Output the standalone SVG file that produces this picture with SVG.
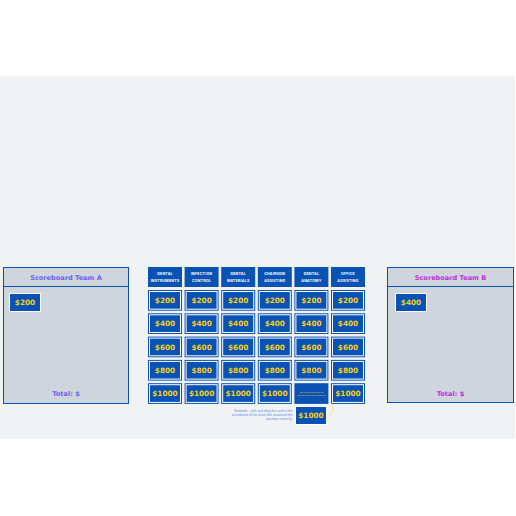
<svg xmlns="http://www.w3.org/2000/svg" width="516" height="516" viewBox="0 0 516 516">
<style>
.bg{fill:#f1f2f4}
.board{fill:#cfd5dd;stroke:#0a52b3;stroke-width:1}
.hdr{fill:#0a52b3}
.hdrt{fill:#ffffff;font-family:Inter,"Liberation Sans",sans-serif;font-weight:700;font-size:3.6px;letter-spacing:0.2px;text-anchor:middle}
.cell{fill:#0a52b3}
.inner{fill:none;stroke:#ffffff;stroke-width:1}
.val{fill:#f5cf1a;font-family:"DejaVu Sans",sans-serif;font-weight:700;font-size:7.3px;text-anchor:middle}
.card{fill:#0a52b3;stroke:#ffffff;stroke-width:1}
.titleA{fill:#6d63ee;font-family:"DejaVu Sans",sans-serif;font-weight:700;font-size:6.6px;text-anchor:middle}
.titleB{fill:#c02fe0;font-family:"DejaVu Sans",sans-serif;font-weight:700;font-size:6.6px;text-anchor:middle}
.tiny{fill:#e2c43a;font-family:"Liberation Sans",sans-serif;font-size:2.3px;text-anchor:middle}
.note{fill:#5b8fe6;font-family:"Liberation Sans",sans-serif;font-size:3.3px;text-anchor:end}
</style>
<rect class="bg" x="0" y="76" width="515" height="363"/>

<g id="scoreboardA">
<rect class="board" x="3.5" y="267.5" width="125" height="136"/>
<line x1="3.5" y1="286.5" x2="128.5" y2="286.5" stroke="#0a52b3" stroke-width="1"/>
<text class="titleA" x="66" y="279.5">Scoreboard Team A</text>
<rect class="card" x="9.5" y="293.5" width="31" height="18"/>
<text class="val" x="25" y="305.3">$200</text>
<text class="titleA" x="66" y="395.5">Total: $</text>
</g>

<g id="scoreboardB">
<rect class="board" x="387.5" y="267.5" width="126" height="135"/>
<line x1="387.5" y1="286.5" x2="513.5" y2="286.5" stroke="#0a52b3" stroke-width="1"/>
<text class="titleB" x="450.5" y="279.5">Scoreboard Team B</text>
<rect class="card" x="395.5" y="293.5" width="31" height="18"/>
<text class="val" x="411" y="305.3">$400</text>
<text class="titleB" x="450.5" y="395.5">Total: $</text>
</g>

<g id="headers">
<g id="h1"><rect class="hdr" x="148" y="267" width="34" height="20"/><text class="hdrt" x="165" y="275">DENTAL</text><text class="hdrt" x="165" y="282">INSTRUMENTS</text></g>
<g id="h2"><rect class="hdr" x="184.6" y="267" width="34" height="20"/><text class="hdrt" x="201.6" y="275">INFECTION</text><text class="hdrt" x="201.6" y="282">CONTROL</text></g>
<g id="h3"><rect class="hdr" x="221.2" y="267" width="34" height="20"/><text class="hdrt" x="238.2" y="275">DENTAL</text><text class="hdrt" x="238.2" y="282">MATERIALS</text></g>
<g id="h4"><rect class="hdr" x="257.8" y="267" width="34" height="20"/><text class="hdrt" x="274.8" y="275">CHAIRSIDE</text><text class="hdrt" x="274.8" y="282">ASSISTING</text></g>
<g id="h5"><rect class="hdr" x="294.4" y="267" width="34" height="20"/><text class="hdrt" x="311.4" y="275">DENTAL</text><text class="hdrt" x="311.4" y="282">ANATOMY</text></g>
<g id="h6"><rect class="hdr" x="331" y="267" width="34" height="20"/><text class="hdrt" x="348" y="275">OFFICE</text><text class="hdrt" x="348" y="282">ASSISTING</text></g>
</g>

<g id="grid">
<g><rect class="cell" x="148" y="290" width="34" height="20.7"/><rect class="inner" x="149.5" y="291.5" width="31" height="17.7"/><text class="val" x="165" y="303">$200</text></g>
<g><rect class="cell" x="184.6" y="290" width="34" height="20.7"/><rect class="inner" x="186.1" y="291.5" width="31" height="17.7"/><text class="val" x="201.6" y="303">$200</text></g>
<g><rect class="cell" x="221.2" y="290" width="34" height="20.7"/><rect class="inner" x="222.7" y="291.5" width="31" height="17.7"/><text class="val" x="238.2" y="303">$200</text></g>
<g><rect class="cell" x="257.8" y="290" width="34" height="20.7"/><rect class="inner" x="259.3" y="291.5" width="31" height="17.7"/><text class="val" x="274.8" y="303">$200</text></g>
<g><rect class="cell" x="294.4" y="290" width="34" height="20.7"/><rect class="inner" x="295.9" y="291.5" width="31" height="17.7"/><text class="val" x="311.4" y="303">$200</text></g>
<g><rect class="cell" x="331" y="290" width="34" height="20.7"/><rect class="inner" x="332.5" y="291.5" width="31" height="17.7"/><text class="val" x="348" y="303">$200</text></g>
<g><rect class="cell" x="148" y="313.3" width="34" height="20.7"/><rect class="inner" x="149.5" y="314.8" width="31" height="17.7"/><text class="val" x="165" y="326.3">$400</text></g>
<g><rect class="cell" x="184.6" y="313.3" width="34" height="20.7"/><rect class="inner" x="186.1" y="314.8" width="31" height="17.7"/><text class="val" x="201.6" y="326.3">$400</text></g>
<g><rect class="cell" x="221.2" y="313.3" width="34" height="20.7"/><rect class="inner" x="222.7" y="314.8" width="31" height="17.7"/><text class="val" x="238.2" y="326.3">$400</text></g>
<g><rect class="cell" x="257.8" y="313.3" width="34" height="20.7"/><rect class="inner" x="259.3" y="314.8" width="31" height="17.7"/><text class="val" x="274.8" y="326.3">$400</text></g>
<g><rect class="cell" x="294.4" y="313.3" width="34" height="20.7"/><rect class="inner" x="295.9" y="314.8" width="31" height="17.7"/><text class="val" x="311.4" y="326.3">$400</text></g>
<g><rect class="cell" x="331" y="313.3" width="34" height="20.7"/><rect class="inner" x="332.5" y="314.8" width="31" height="17.7"/><text class="val" x="348" y="326.3">$400</text></g>
<g><rect class="cell" x="148" y="336.6" width="34" height="20.7"/><rect class="inner" x="149.5" y="338.1" width="31" height="17.7"/><text class="val" x="165" y="349.6">$600</text></g>
<g><rect class="cell" x="184.6" y="336.6" width="34" height="20.7"/><rect class="inner" x="186.1" y="338.1" width="31" height="17.7"/><text class="val" x="201.6" y="349.6">$600</text></g>
<g><rect class="cell" x="221.2" y="336.6" width="34" height="20.7"/><rect class="inner" x="222.7" y="338.1" width="31" height="17.7"/><text class="val" x="238.2" y="349.6">$600</text></g>
<g><rect class="cell" x="257.8" y="336.6" width="34" height="20.7"/><rect class="inner" x="259.3" y="338.1" width="31" height="17.7"/><text class="val" x="274.8" y="349.6">$600</text></g>
<g><rect class="cell" x="294.4" y="336.6" width="34" height="20.7"/><rect class="inner" x="295.9" y="338.1" width="31" height="17.7"/><text class="val" x="311.4" y="349.6">$600</text></g>
<g><rect class="cell" x="331" y="336.6" width="34" height="20.7"/><rect class="inner" x="332.5" y="338.1" width="31" height="17.7"/><text class="val" x="348" y="349.6">$600</text></g>
<g><rect class="cell" x="148" y="359.9" width="34" height="20.7"/><rect class="inner" x="149.5" y="361.4" width="31" height="17.7"/><text class="val" x="165" y="372.9">$800</text></g>
<g><rect class="cell" x="184.6" y="359.9" width="34" height="20.7"/><rect class="inner" x="186.1" y="361.4" width="31" height="17.7"/><text class="val" x="201.6" y="372.9">$800</text></g>
<g><rect class="cell" x="221.2" y="359.9" width="34" height="20.7"/><rect class="inner" x="222.7" y="361.4" width="31" height="17.7"/><text class="val" x="238.2" y="372.9">$800</text></g>
<g><rect class="cell" x="257.8" y="359.9" width="34" height="20.7"/><rect class="inner" x="259.3" y="361.4" width="31" height="17.7"/><text class="val" x="274.8" y="372.9">$800</text></g>
<g><rect class="cell" x="294.4" y="359.9" width="34" height="20.7"/><rect class="inner" x="295.9" y="361.4" width="31" height="17.7"/><text class="val" x="311.4" y="372.9">$800</text></g>
<g><rect class="cell" x="331" y="359.9" width="34" height="20.7"/><rect class="inner" x="332.5" y="361.4" width="31" height="17.7"/><text class="val" x="348" y="372.9">$800</text></g>
<g><rect class="cell" x="148" y="383.2" width="34" height="20.7"/><rect class="inner" x="149.5" y="384.7" width="31" height="17.7"/><text class="val" x="165" y="396.2">$1000</text></g>
<g><rect class="cell" x="184.6" y="383.2" width="34" height="20.7"/><rect class="inner" x="186.1" y="384.7" width="31" height="17.7"/><text class="val" x="201.6" y="396.2">$1000</text></g>
<g><rect class="cell" x="221.2" y="383.2" width="34" height="20.7"/><rect class="inner" x="222.7" y="384.7" width="31" height="17.7"/><text class="val" x="238.2" y="396.2">$1000</text></g>
<g><rect class="cell" x="257.8" y="383.2" width="34" height="20.7"/><rect class="inner" x="259.3" y="384.7" width="31" height="17.7"/><text class="val" x="274.8" y="396.2">$1000</text></g>
<g id="emptyCell"><rect class="cell" x="294.4" y="383.2" width="34" height="20.7"/><text class="tiny" x="311.4" y="392.6">This card is used for the</text><text class="tiny" x="311.4" y="395.6">question that was answered</text></g>
<g><rect class="cell" x="331" y="383.2" width="34" height="20.7"/><rect class="inner" x="332.5" y="384.7" width="31" height="17.7"/><text class="val" x="348" y="396.2">$1000</text></g>
</g>

<g id="connectors">
<path d="M329.5 401.5 C334 405 334 413 327.5 417" fill="none" stroke="#f3df8a" stroke-width="0.8"/>
</g>

<g id="dragCard">
<rect class="card" x="295.5" y="406.5" width="31" height="18"/>
<text class="val" x="311" y="418.2">$1000</text>
</g>

<g id="note">
<text class="note" x="292.5" y="411.5">Example - click and drag the card to the</text>
<text class="note" x="292.5" y="415.5">scoreboard of the team that answered the</text>
<text class="note" x="292.5" y="419.5">question correctly.</text>
</g>
</svg>
